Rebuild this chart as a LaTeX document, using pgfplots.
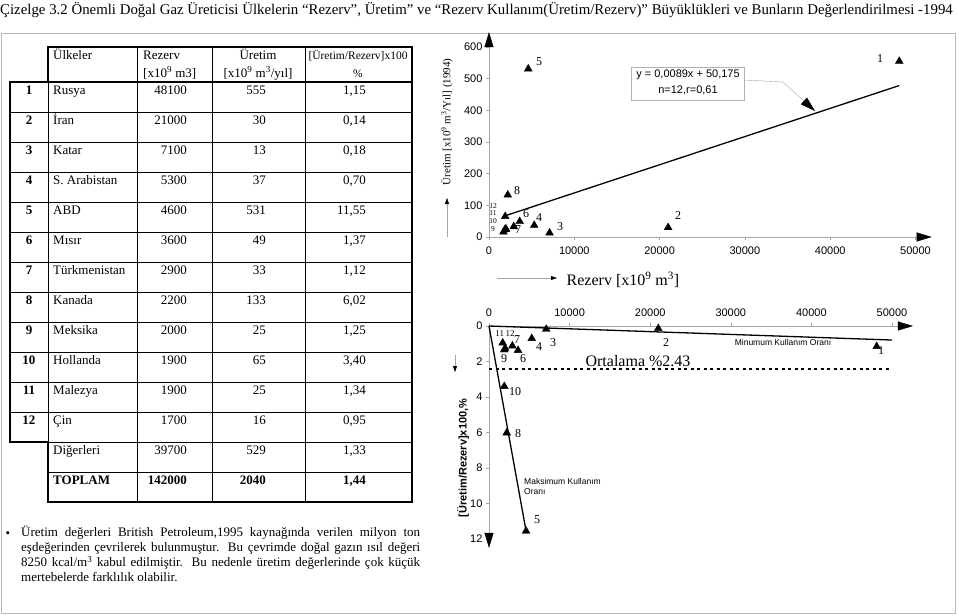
\documentclass[border=0pt]{standalone}
\usepackage{fontspec}
\setmainfont{Liberation Serif}
\setsansfont{Liberation Sans}
\usepackage{pgfplots}
\pgfplotsset{compat=1.18}
\usetikzlibrary{arrows.meta}

\newcommand\fs[1]{\fontsize{#1}{#1}\selectfont}
\tikzset{big/.style={-{Triangle[length=15pt,width=9pt,color=black]}},
  small/.style={-{Triangle[length=6pt,width=4pt,color=black]}}}

\pgfplotsset{rk/.style={scale only axis, clip=false, enlargelimits=false,
  axis line style={draw=none}, xtick pos=bottom, ytick pos=left,
  tick style={gray!70,thin}, major tick length=3pt, tick align=outside,
  ticklabel style={font=\sffamily\fs{11}},
  /pgf/number format/assume math mode=true, /pgf/number format/1000 sep={}, scaled ticks=false}}

\begin{document}
\begin{tikzpicture}
\begin{scope}[x=1pt,y=-1pt,every node/.style={inner sep=0pt},font=\fs{13}]
\path[use as bounding box] (0,0) rectangle (959,616);
\node[anchor=base west] at (0,14) {\fs{14.85}Çizelge 3.2 Önemli Doğal Gaz Üreticisi Ülkelerin “Rezerv”, Üretim” ve “Rezerv Kullanım(Üretim/Rezerv)” Büyüklükleri ve Bunların Değerlendirilmesi -1994};
\draw[gray!55] (1,33) rectangle (955,613);

% table
\draw[line width=0.8pt] (137,47) -- (137,502) (212,47) -- (212,502) (305,47) -- (305,502) (48,82) -- (48,442);
\foreach \k in {1,...,12} \draw[line width=0.8pt] (10,82+30*\k) -- (412,82+30*\k);
\draw[line width=0.8pt] (48,472) -- (412,472);
\draw[line width=2pt] (10,82) -- (412,82);
\draw[line width=2pt,line join=miter] (48,82) -- (48,47) -- (412,47) -- (412,502) -- (48,502) -- (48,442) -- (10,442) -- (10,82) -- cycle;

\node[anchor=base west] at (53,59) {Ülkeler};
\node[anchor=base west] at (143,59) {Rezerv};
\node[anchor=base west] at (143,77) {[x10\textsuperscript{9} m3]};
\node[anchor=base] at (258,59) {Üretim};
\node[anchor=base] at (258,77) {[x10\textsuperscript{9} m\textsuperscript{3}/yıl]};
\node[anchor=base] at (358,59) {\fs{11.5}[Üretim/Rezerv]x100};
\node[anchor=base] at (358,77) {\fs{11.5}\%};

\foreach \n/\c/\r/\u/\p [count=\i from 0] in {1/Rusya/48100/555/{1,15}, 2/İran/21000/30/{0,14}, 3/Katar/7100/13/{0,18}, 4/S. Arabistan/5300/37/{0,70}, 5/ABD/4600/531/{11,55}, 6/Mısır/3600/49/{1,37}, 7/Türkmenistan/2900/33/{1,12}, 8/Kanada/2200/133/{6,02}, 9/Meksika/2000/25/{1,25}, 10/Hollanda/1900/65/{3,40}, 11/Malezya/1900/25/{1,34}, 12/Çin/1700/16/{0,95}}{
  \pgfmathsetmacro\yb{94.5+30*\i}
  \node[anchor=base] at (29,\yb) {\bfseries\n};
  \node[anchor=base west] at (53,\yb) {\c};
  \node[anchor=base east] at (187,\yb) {\r};
  \node[anchor=base east] at (266,\yb) {\u};
  \node[anchor=base east] at (366,\yb) {\p};
}
\node[anchor=base west] at (53,454.5) {Diğerleri};
\node[anchor=base east] at (187,454.5) {39700};
\node[anchor=base east] at (266,454.5) {529};
\node[anchor=base east] at (366,454.5) {1,33};
\node[anchor=base west] at (53,484.5) {\bfseries TOPLAM};
\node[anchor=base east] at (187,484.5) {\bfseries 142000};
\node[anchor=base east] at (266,484.5) {\bfseries 2040};
\node[anchor=base east] at (366,484.5) {\bfseries 1,44};

\node[anchor=base] at (8,537) {•};
\node[anchor=north west,text width=399pt,align=justify,font=\fontsize{13}{15}\selectfont] at (21,526)
 {Üretim değerleri British Petroleum,1995 kaynağında verilen milyon ton\linebreak eşdeğerinden çevrilerek bulunmuştur. Bu çevrimde doğal gazın ısıl değeri\linebreak 8250 kcal/m\textsuperscript{3} kabul edilmiştir. Bu nedenle üretim değerlerinde çok küçük\linebreak mertebelerde farklılık olabilir.};
\end{scope}

% top chart
\begin{axis}[rk, at={(489pt,-237pt)}, anchor=south west, width=426.5pt, height=190pt,
  xticklabel style={yshift=-3pt},
  xmin=0, xmax=50000, ymin=0, ymax=600, xtick={0,10000,...,50000}, ytick={0,100,...,600}]
\draw[gray!70,thin,big] (axis cs:0,0) -- (axis cs:51900,0);
\draw[gray!70,thin,big] (axis cs:0,0) -- (axis cs:0,647);
\addplot[black, line width=1.3pt] coordinates {(1700,65.3) (48100,478.3)};
\addplot[only marks, mark=triangle*, mark size=4.5pt, black] table {
x y
48100 555
21000 30
7100 13
5300 37
4600 531
3600 49
2900 33
2200 133
2000 25
1900 65
1900 25
1700 16
};
\end{axis}

% bottom chart
\begin{axis}[rk, at={(489pt,-326pt)}, anchor=north west, width=403pt, height=213pt, y dir=reverse,
  xtick pos=top, xticklabel pos=top, xticklabel style={yshift=3pt},
  xmin=0, xmax=50000, ymin=0, ymax=12, xtick={0,10000,...,50000}, ytick={0,2,...,12}]
\draw[gray!70,thin,big] (axis cs:0,0) -- (axis cs:52600,0);
\draw[gray!70,thin,big] (axis cs:0,0) -- (axis cs:0,12.5);
\addplot[black, line width=1.3pt] coordinates {(0,0) (50000,0.79)};
\addplot[black, line width=1.3pt] coordinates {(0,0) (4600,11.55)};
\addplot[black, line width=1.3pt, dash pattern=on 3pt off 3.5pt] coordinates {(0,2.43) (50000,2.43)};
\addplot[only marks, mark=triangle*, mark size=4.5pt, black] table {
x y
48100 1.15
21000 0.14
7100 0.18
5300 0.70
4600 11.55
3600 1.37
2900 1.12
2200 6.02
2000 1.25
1900 3.40
1900 1.34
1700 0.95
};
\end{axis}

\begin{scope}[x=1pt,y=-1pt,every node/.style={inner sep=0pt},font=\fs{12}]
% top chart texts
\node[rotate=90] at (447,122) {\fs{11}Üretim [x10\textsuperscript{9} m\textsuperscript{3}/Yıl] (1994)};
\draw[gray!70,small] (447,237) -- (447,198);
\node at (623,280) {\fs{16}Rezerv [x10\textsuperscript{9} m\textsuperscript{3}]};
\draw[gray!70,small] (497,278) -- (557,278);
\draw[gray!60,fill=white] (631,67) rectangle (744,100);
\node at (688,75) {\sffamily\fs{11}y = 0,0089x + 50,175};
\node at (688,90) {\sffamily\fs{11}n=12,r=0,61};
\draw[gray!70,thin,big] (744,80) -- (783,82) -- (815,111);
\node at (880,59) {1};
\node at (539,62) {5};
\node at (517,191) {8};
\node at (678,216) {2};
\node at (560,227) {3};
\node at (539,218) {4};
\node at (526,214) {6};
\node at (518,230) {7};
\foreach \t/\yy in {12/206,11/213.5,10/221,9/229} \node at (493,\yy) {\fs{7.5}\t};
% bottom chart texts
\node[rotate=90] at (463,458) {\sffamily\bfseries\fs{11}[Üretim/Rezerv]x100,\%};
\draw[gray!70,small] (455,355) -- (455,372);
\node at (638,361) {\fs{16}Ortalama \%2.43};
\node at (783,342) {\sffamily\fs{8.5}Minumum Kullanım Oranı};
\node[anchor=base west] at (524,484) {\sffamily\fs{8.5}Maksimum Kullanım};
\node[anchor=base west] at (524,494) {\sffamily\fs{8.5}Oranı};
\node at (505,334) {\fs{9}11\,12};
\node at (517,340) {7};
\node at (539,347) {4};
\node at (553,343) {3};
\node at (666,343) {2};
\node at (504,359) {9};
\node at (523,359) {6};
\node at (515,392) {10};
\node at (518,434) {8};
\node at (881,351) {1};
\node at (537,520) {5};
\end{scope}
\end{tikzpicture}
\end{document}
